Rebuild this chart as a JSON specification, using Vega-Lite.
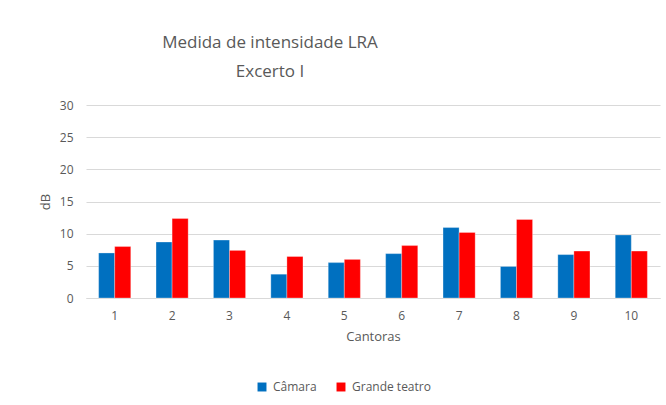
{
  "$schema": "https://vega.github.io/schema/vega-lite/v6.json",
  "autosize": "none",
  "width": 574,
  "height": 193,
  "padding": {"left": 86, "top": 105, "right": 6, "bottom": 107},
  "background": "white",
  "title": {
    "text": ["Medida de intensidade LRA", "Excerto I"],
    "font": "Open Sans",
    "fontSize": 17,
    "fontWeight": "normal",
    "color": "#595959",
    "anchor": "middle",
    "dx": -103,
    "offset": 18,
    "lineHeight": 29
  },
  "data": {
    "values": [
      {"cantora": "1", "local": "Câmara", "db": 7.0},
      {"cantora": "1", "local": "Grande teatro", "db": 8.0},
      {"cantora": "2", "local": "Câmara", "db": 8.7},
      {"cantora": "2", "local": "Grande teatro", "db": 12.35},
      {"cantora": "3", "local": "Câmara", "db": 9.0},
      {"cantora": "3", "local": "Grande teatro", "db": 7.4},
      {"cantora": "4", "local": "Câmara", "db": 3.7},
      {"cantora": "4", "local": "Grande teatro", "db": 6.45},
      {"cantora": "5", "local": "Câmara", "db": 5.5},
      {"cantora": "5", "local": "Grande teatro", "db": 6.0},
      {"cantora": "6", "local": "Câmara", "db": 6.9},
      {"cantora": "6", "local": "Grande teatro", "db": 8.15},
      {"cantora": "7", "local": "Câmara", "db": 10.95},
      {"cantora": "7", "local": "Grande teatro", "db": 10.2},
      {"cantora": "8", "local": "Câmara", "db": 4.9},
      {"cantora": "8", "local": "Grande teatro", "db": 12.2},
      {"cantora": "9", "local": "Câmara", "db": 6.75},
      {"cantora": "9", "local": "Grande teatro", "db": 7.3},
      {"cantora": "10", "local": "Câmara", "db": 9.8},
      {"cantora": "10", "local": "Grande teatro", "db": 7.3}
    ]
  },
  "mark": {"type": "bar", "stroke": "white", "strokeWidth": 0.5, "strokeOpacity": 0.6},
  "encoding": {
    "x": {
      "field": "cantora",
      "type": "ordinal",
      "sort": null,
      "scale": {"paddingInner": 0.44, "paddingOuter": 0.22},
      "axis": {
        "title": "Cantoras",
        "labelAngle": 0,
        "ticks": false,
        "domainColor": "#d9d9d9",
        "domainWidth": 1,
        "labelPadding": 12,
        "titlePadding": 9
      }
    },
    "xOffset": {"field": "local", "type": "nominal"},
    "y": {
      "field": "db",
      "type": "quantitative",
      "scale": {"domain": [0, 30]},
      "axis": {
        "title": "dB",
        "values": [0, 5, 10, 15, 20, 25, 30],
        "ticks": false,
        "domain": false,
        "gridColor": "#d9d9d9",
        "gridWidth": 1,
        "labelPadding": 13,
        "titlePadding": 7
      }
    },
    "color": {
      "field": "local",
      "type": "nominal",
      "scale": {"domain": ["Câmara", "Grande teatro"], "range": ["#0070c0", "#ff0000"]},
      "legend": {
        "title": null,
        "orient": "none",
        "direction": "horizontal",
        "legendX": 170,
        "legendY": 276,
        "symbolType": "square",
        "symbolSize": 80,
        "symbolStrokeWidth": 0,
        "columnPadding": 18,
        "labelOffset": 5
      }
    }
  },
  "config": {
    "font": "Open Sans",
    "view": {"stroke": null},
    "axis": {
      "labelFont": "Open Sans",
      "labelFontSize": 12,
      "labelColor": "#595959",
      "titleFont": "Open Sans",
      "titleFontSize": 13,
      "titleFontWeight": "normal",
      "titleColor": "#595959"
    },
    "legend": {
      "labelFont": "Open Sans",
      "labelFontSize": 12,
      "labelColor": "#595959"
    }
  }
}
